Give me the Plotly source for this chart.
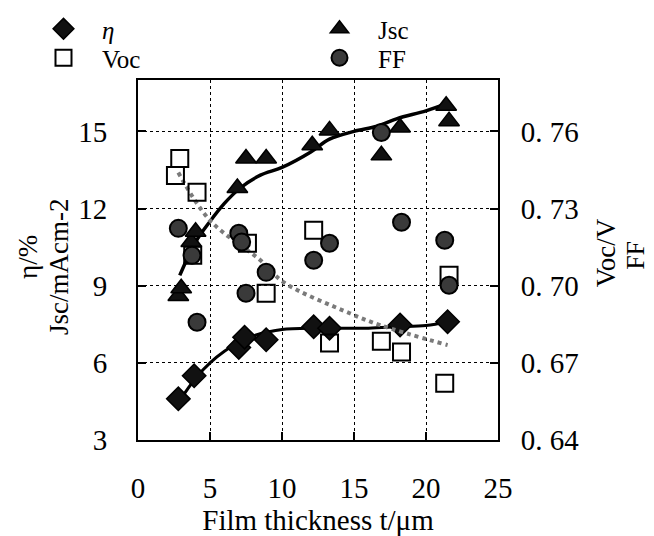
import plotly.graph_objects as go

# ---- data ----
eta_x = [2.8, 3.9, 7.0, 7.4, 8.9, 12.2, 13.3, 18.2, 21.5]
eta_y = [4.6, 5.5, 6.6, 7.0, 6.9, 7.4, 7.35, 7.47, 7.6]
eta_fit_x = [2.8, 4.0, 5.0, 6.0, 7.0, 8.0, 9.0, 10.0, 12.0, 14.0, 16.0, 18.0, 20.0, 21.5]
eta_fit_y = [4.45, 5.4, 6.0, 6.45, 6.8, 7.05, 7.2, 7.3, 7.35, 7.35, 7.35, 7.4, 7.45, 7.6]

jsc_x = [2.8, 3.0, 3.7, 4.0, 6.9, 7.5, 8.9, 12.1, 13.3, 16.9, 18.2, 21.4, 21.6]
jsc_y = [8.6, 8.9, 10.7, 11.1, 12.8, 13.95, 13.95, 14.46, 15.04, 14.07, 15.15, 16.0, 15.4]
jsc_fit_x = [2.9, 4.0, 5.0, 6.0, 7.1, 8.5, 10.0, 12.0, 13.3, 15.0, 16.6, 18.0, 20.0, 21.5]
jsc_fit_y = [9.4, 10.7, 11.5, 12.2, 12.8, 13.3, 13.6, 14.2, 14.7, 15.0, 15.2, 15.5, 15.8, 16.1]

voc_x = [2.6, 2.9, 3.8, 4.1, 7.6, 8.9, 12.2, 13.3, 16.9, 18.3, 21.3, 21.6]
voc_y = [0.7429, 0.7495, 0.7118, 0.7363, 0.7165, 0.6971, 0.7216, 0.6777, 0.6784, 0.6742, 0.6621, 0.7041]
voc_fit_x = [2.8, 5.0, 8.5, 10.1, 14.7, 16.8, 21.5]
voc_fit_y = [0.744, 0.7254, 0.7099, 0.7014, 0.6893, 0.6847, 0.6769]

ff_x = [2.8, 3.75, 4.1, 7.0, 7.2, 7.5, 8.9, 12.2, 13.3, 16.9, 18.3, 21.3, 21.6]
ff_y = [0.7223, 0.7118, 0.6858, 0.7204, 0.717, 0.6971, 0.7052, 0.7099, 0.7165, 0.7596, 0.7247, 0.7177, 0.7002]

left_ticks = [3, 6, 9, 12, 15]
right_ticks = [0.64, 0.67, 0.70, 0.73, 0.76]
right_ticktext = ["0. 64", "0. 67", "0. 70", "0. 73", "0. 76"]
x_ticks = [0, 5, 10, 15, 20, 25]

FONT = "Liberation Serif"
W, H = 646, 528

fig = go.Figure()

# fitted curves
fig.add_trace(go.Scatter(x=voc_fit_x, y=voc_fit_y, yaxis="y2", mode="lines",
                         line=dict(color="#7a7a7a", width=4, dash="dot", shape="spline"),
                         showlegend=False, hoverinfo="skip"))
fig.add_trace(go.Scatter(x=eta_fit_x, y=eta_fit_y, mode="lines",
                         line=dict(color="black", width=3, shape="spline"),
                         showlegend=False, hoverinfo="skip"))
fig.add_trace(go.Scatter(x=jsc_fit_x, y=jsc_fit_y, mode="lines",
                         line=dict(color="black", width=3.5, shape="spline"),
                         showlegend=False, hoverinfo="skip"))

# markers
fig.add_trace(go.Scatter(x=voc_x, y=voc_y, yaxis="y2", mode="markers", name="Voc",
                         legend="legend2",
                         marker=dict(symbol="square-open", size=17, color="black",
                                     line=dict(width=2, color="black"))))
fig.add_trace(go.Scatter(x=ff_x, y=ff_y, yaxis="y2", mode="markers", name="FF",
                         legend="legend4",
                         marker=dict(symbol="circle", size=17, color="#3a3a3a",
                                     line=dict(width=2, color="black"))))
fig.add_trace(go.Scatter(x=eta_x, y=eta_y, mode="markers", name="<i>η</i>",
                         legend="legend",
                         marker=dict(symbol="diamond", size=18, color="#111",
                                     line=dict(width=1.5, color="black"))))
fig.add_trace(go.Scatter(x=jsc_x, y=jsc_y, mode="markers", name="Jsc",
                         legend="legend3",
                         marker=dict(symbol="triangle-up", size=18, color="#111",
                                     line=dict(width=1.5, color="black"))))

grid = dict(showgrid=True, gridcolor="black", gridwidth=1.3, griddash="dot")


def leg(sx, sy):
    # sx, sy: desired screen position (page has an 8px body margin)
    return dict(xref="container", yref="container",
                x=(sx - 8) / W, y=1 - (sy - 8) / H,
                xanchor="left", yanchor="middle", bgcolor="rgba(0,0,0,0)",
                font=dict(size=25), itemwidth=67)


fig.update_layout(
    width=W, height=H,
    margin=dict(l=130, r=156, t=72, b=96, autoexpand=False),
    paper_bgcolor="white", plot_bgcolor="white",
    font=dict(family=FONT, size=27, color="black"),
    xaxis=dict(range=[0, 25], tickvals=x_ticks, showline=True, linecolor="black",
               linewidth=2, mirror=True, ticks="inside", ticklen=8, tickwidth=1.5,
               tickcolor="black", ticklabelstandoff=21, zeroline=False,
               tickfont=dict(size=29), tickangle=0,
               title=dict(text="Film thickness t/μm", font=dict(size=29), standoff=4),
               **grid),
    yaxis=dict(range=[3, 17], tickvals=left_ticks, showline=True, linecolor="black",
               linewidth=2, ticks="inside", ticklen=8, tickwidth=1.5, tickcolor="black",
               ticklabelstandoff=23, zeroline=False, tickfont=dict(size=29),
               **grid),
    yaxis2=dict(range=[0.64, 0.78], tickvals=right_ticks, ticktext=right_ticktext,
                overlaying="y", side="right", showline=True, linecolor="black",
                linewidth=2, ticks="inside", ticklen=8, tickwidth=1.5, tickcolor="black",
                ticklabelstandoff=15, showgrid=False, zeroline=False,
                tickfont=dict(size=29)),
    legend=leg(25, 29),
    legend2=leg(25, 58),
    legend3=leg(301, 29),
    legend4=leg(301, 58),
    annotations=[
        dict(text="η/%", xref="paper", yref="paper", x=-0.306, y=0.508,
             showarrow=False, textangle=-90, font=dict(size=27),
             xanchor="center", yanchor="middle"),
        dict(text="Jsc/mAcm-2", xref="paper", yref="paper", x=-0.22, y=0.48,
             showarrow=False, textangle=-90, font=dict(size=27),
             xanchor="center", yanchor="middle"),
        dict(text="Voc/V", xref="paper", yref="paper", x=1.30, y=0.519,
             showarrow=False, textangle=-90, font=dict(size=27),
             xanchor="center", yanchor="middle"),
        dict(text="FF", xref="paper", yref="paper", x=1.383, y=0.514,
             showarrow=False, textangle=-90, font=dict(size=26),
             xanchor="center", yanchor="middle"),
    ],
)

fig.write_html("out.html")
